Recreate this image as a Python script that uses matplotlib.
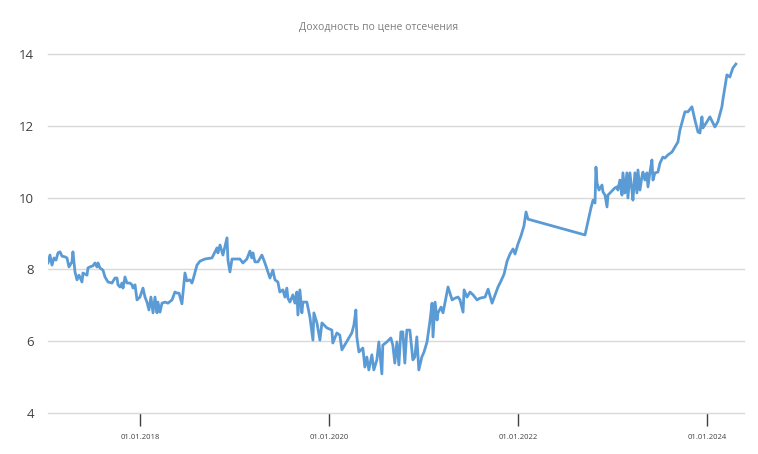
import numpy as np
import pandas as pd
import matplotlib
matplotlib.use("Agg")
import matplotlib.pyplot as plt
import matplotlib.dates as mdates

title = "Доходность по цене отсечения"

# decimal year of each auction and its yield
years = [
    2017.026, 2017.047, 2017.068, 2017.090, 2017.111, 2017.132, 2017.153, 2017.174, 2017.206, 2017.227,
    2017.248, 2017.280, 2017.290, 2017.312, 2017.333, 2017.354, 2017.386, 2017.396, 2017.439, 2017.449,
    2017.470, 2017.502, 2017.523, 2017.544, 2017.555, 2017.576, 2017.608, 2017.629, 2017.661, 2017.703,
    2017.735, 2017.756, 2017.767, 2017.788, 2017.809, 2017.820, 2017.841, 2017.862, 2017.894, 2017.915,
    2017.926, 2017.947, 2017.968, 2018.000, 2018.032, 2018.053, 2018.074, 2018.095, 2018.116, 2018.138,
    2018.159, 2018.180, 2018.190, 2018.212, 2018.233, 2018.265, 2018.296, 2018.339, 2018.370, 2018.392,
    2018.413, 2018.444, 2018.476, 2018.497, 2018.529, 2018.550, 2018.561, 2018.603, 2018.635, 2018.688,
    2018.762, 2018.794, 2018.815, 2018.825, 2018.847, 2018.868, 2018.878, 2018.921, 2018.931, 2018.952,
    2018.974, 2019.058, 2019.090, 2019.132, 2019.164, 2019.185, 2019.196, 2019.217, 2019.249, 2019.291,
    2019.323, 2019.354, 2019.376, 2019.407, 2019.429, 2019.460, 2019.481, 2019.513, 2019.534, 2019.555,
    2019.566, 2019.587, 2019.619, 2019.640, 2019.661, 2019.672, 2019.693, 2019.714, 2019.725, 2019.767,
    2019.799, 2019.831, 2019.841, 2019.873, 2019.905, 2019.926, 2019.979, 2020.032, 2020.042, 2020.085,
    2020.116, 2020.138, 2020.243, 2020.265, 2020.286, 2020.296, 2020.318, 2020.360, 2020.381, 2020.402,
    2020.423, 2020.455, 2020.476, 2020.508, 2020.529, 2020.561, 2020.571, 2020.614, 2020.656, 2020.677,
    2020.698, 2020.720, 2020.741, 2020.762, 2020.783, 2020.804, 2020.825, 2020.857, 2020.889, 2020.910,
    2020.931, 2020.952, 2020.984, 2021.005, 2021.037, 2021.069, 2021.090, 2021.100, 2021.122, 2021.143,
    2021.153, 2021.185, 2021.206, 2021.259, 2021.302, 2021.333, 2021.365, 2021.386, 2021.418, 2021.429,
    2021.460, 2021.492, 2021.524, 2021.566, 2021.598, 2021.651, 2021.683, 2021.725, 2021.757, 2021.788,
    2021.820, 2021.852, 2021.884, 2021.915, 2021.947, 2021.968, 2022.000, 2022.031, 2022.063, 2022.085,
    2022.106, 2022.709, 2022.772, 2022.794, 2022.815, 2022.825, 2022.836, 2022.857, 2022.889, 2022.899,
    2022.921, 2022.942, 2022.952, 2022.974, 2023.005, 2023.026, 2023.048, 2023.058, 2023.079, 2023.101,
    2023.111, 2023.132, 2023.153, 2023.164, 2023.185, 2023.206, 2023.217, 2023.238, 2023.259, 2023.270,
    2023.291, 2023.312, 2023.323, 2023.344, 2023.365, 2023.376, 2023.397, 2023.418, 2023.429, 2023.450,
    2023.481, 2023.503, 2023.534, 2023.555, 2023.587, 2023.630, 2023.661, 2023.693, 2023.714, 2023.767,
    2023.799, 2023.841, 2023.873, 2023.905, 2023.926, 2023.947, 2023.958, 2024.000, 2024.032, 2024.085,
    2024.116, 2024.159, 2024.169, 2024.212, 2024.243, 2024.275, 2024.307,
]
yields = [
    8.18, 8.40, 8.12, 8.32, 8.26, 8.46, 8.49, 8.37, 8.35, 8.32,
    8.07, 8.21, 8.49, 7.93, 7.71, 7.84, 7.65, 7.90, 7.84, 8.04,
    8.07, 8.10, 8.18, 8.07, 8.18, 8.04, 7.98, 7.79, 7.65, 7.62,
    7.76, 7.76, 7.57, 7.51, 7.62, 7.48, 7.79, 7.62, 7.62, 7.57,
    7.48, 7.57, 7.15, 7.23, 7.48, 7.23, 7.09, 6.87, 7.23, 6.79,
    7.23, 6.79, 7.09, 6.81, 7.06, 7.09, 7.06, 7.15, 7.37, 7.34,
    7.34, 7.04, 7.90, 7.68, 7.71, 7.62, 7.71, 8.12, 8.23, 8.29,
    8.32, 8.49, 8.60, 8.46, 8.68, 8.49, 8.40, 8.88, 8.26, 7.93,
    8.29, 8.29, 8.18, 8.29, 8.51, 8.32, 8.46, 8.21, 8.21, 8.40,
    8.18, 7.93, 7.76, 7.98, 7.71, 7.65, 7.37, 7.43, 7.23, 7.48,
    7.20, 7.09, 7.29, 7.06, 7.37, 6.73, 7.43, 6.79, 7.09, 7.09,
    6.67, 6.03, 6.79, 6.51, 6.03, 6.51, 6.37, 6.31, 5.95, 6.23,
    6.17, 5.76, 6.23, 6.45, 6.87, 6.12, 5.70, 5.81, 5.28, 5.56,
    5.20, 5.62, 5.20, 5.48, 5.98, 5.09, 5.89, 5.98, 6.09, 5.89,
    5.39, 5.98, 5.34, 6.26, 6.26, 5.39, 6.31, 6.31, 5.48, 5.56,
    6.12, 5.20, 5.56, 5.70, 5.98, 6.59, 7.06, 6.12, 7.09, 6.59,
    6.79, 6.95, 6.79, 7.51, 7.15, 7.20, 7.23, 7.15, 6.81, 7.43,
    7.23, 7.37, 7.29, 7.15, 7.20, 7.23, 7.45, 7.06, 7.29, 7.51,
    7.68, 7.87, 8.23, 8.43, 8.57, 8.43, 8.71, 8.93, 9.21, 9.60,
    9.40, 8.96, 9.71, 9.93, 9.85, 10.85, 10.41, 10.21, 10.35, 10.16,
    10.07, 9.74, 10.07, 10.13, 10.21, 10.27, 10.30, 10.21, 10.49, 10.07,
    10.69, 10.13, 10.69, 9.99, 10.69, 10.21, 9.93, 10.69, 10.13, 10.77,
    10.21, 10.58, 10.71, 10.49, 10.69, 10.30, 10.71, 11.05, 10.49, 10.69,
    10.71, 10.96, 11.13, 11.10, 11.19, 11.27, 11.41, 11.55, 11.88, 12.39,
    12.39, 12.53, 12.16, 11.83, 11.80, 12.25, 11.94, 12.11, 12.25, 11.97,
    12.11, 12.53, 12.72, 13.42, 13.36, 13.61, 13.72,
]
y_ticks = [4, 6, 8, 10, 12, 14]
x_tick_dates = ["2018-01-01", "2020-01-01", "2022-01-01", "2024-01-01"]


def to_date(y):
    start = pd.Timestamp(year=int(y), month=1, day=1)
    return start + pd.Timedelta(days=(y - int(y)) * 365.25)


dates = [to_date(y) for y in years]

plt.rcParams["font.family"] = ["Open Sans", "DejaVu Sans"]

fig = plt.figure(figsize=(7.58, 4.54), dpi=100)
ax = fig.add_axes([0.0633, 0.0903, 0.918, 0.7907])

ax.plot(dates, yields, color="#5b9bd5", linewidth=2.0, solid_joinstyle="round")

ax.set_ylim(4, 14)
ax.set_yticks(y_ticks)
ax.set_xlim(dates[0], to_date(2024.391))
ax.set_xticks([pd.Timestamp(d) for d in x_tick_dates])
ax.xaxis.set_major_formatter(mdates.DateFormatter("%d.%m.%Y"))

ax.grid(axis="y", color="#d9d9d9", linewidth=1.0)
ax.set_axisbelow(True)
for gl in ax.get_ygridlines():
    gl.set_clip_on(False)
for s in ["top", "right", "left", "bottom"]:
    ax.spines[s].set_visible(False)

ax.tick_params(axis="y", length=0, labelsize=9.5, labelcolor="#404040", pad=10)
ax.tick_params(axis="x", length=9, width=1.0, color="#404040",
               labelsize=5.5, labelcolor="#404040", pad=6, direction="out")

fig.text(0.5, 0.94, title, ha="center", va="center", fontsize=7.5, color="#7f7f7f")

fig.savefig("out.png", dpi=100)
